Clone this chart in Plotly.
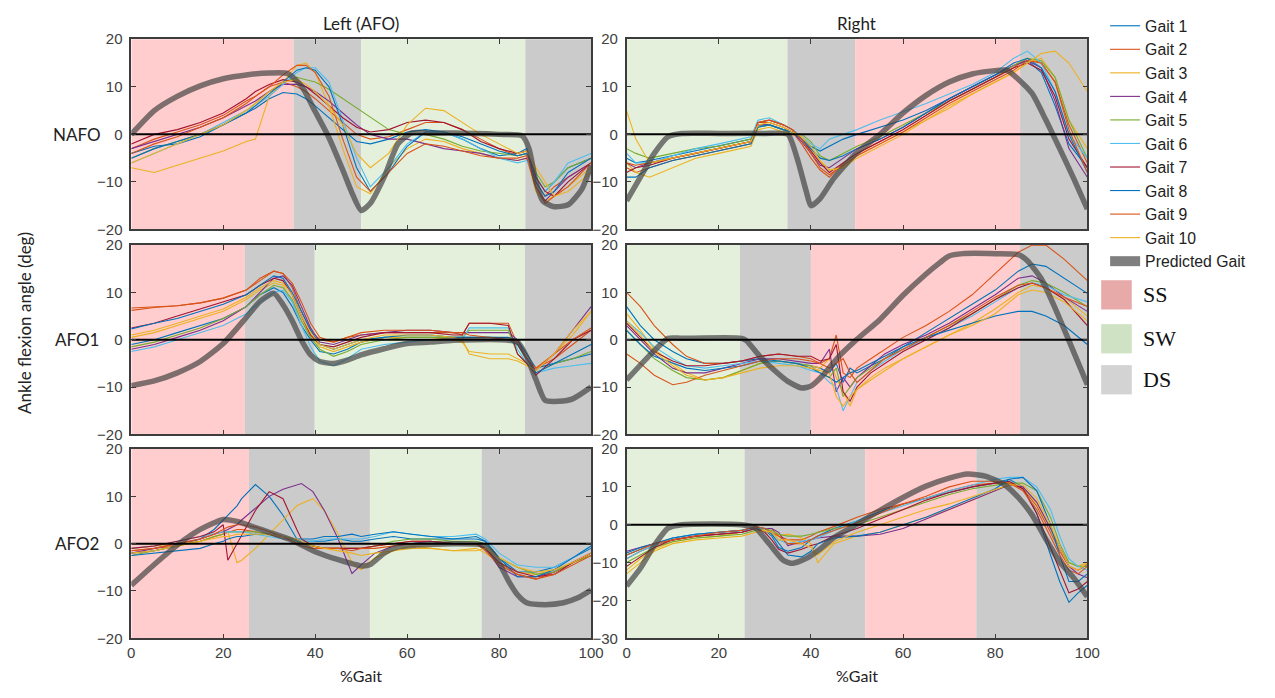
import plotly.graph_objects as go

# ---------------- data ----------------
GAIT_NAMES = ["Gait 1", "Gait 2", "Gait 3", "Gait 4", "Gait 5",
              "Gait 6", "Gait 7", "Gait 8", "Gait 9", "Gait 10"]
GAIT_COLORS = ["#0072BD", "#D95319", "#EDB120", "#7E2F8E", "#77AC30",
               "#4DBEEE", "#A2142F", "#0072BD", "#D95319", "#EDB120"]
ROW_LABELS = ["NAFO", "AFO1", "AFO2"]
COL_TITLES = ["Left (AFO)", "Right"]
X_TICKS = [0, 20, 40, 60, 80, 100]

# ---- NAFO, left ----
X_NAFO_L = [0, 5, 10, 15, 20, 25, 27, 30, 33, 36, 38, 40, 43, 46, 49, 52, 56, 60, 64, 68, 72, 76, 80, 84, 86, 88, 90, 92, 95, 100]
NAFO_L = [
    [-4, -2.5, -2, -0.5, 2, 4.5, 5.5, 7.5, 8.8, 8.5, 7.5, 6, 3.5, 1, -1.5, -2, -1, 0.5, 1, 0.5, -1, -3, -4.5, -4, -3, -9, -12, -10, -7, -5],
    [-3, -1, 0.5, 2, 4, 7, 8, 10, 11, 10, 9, 7.5, 5, 2.5, 0, -1, -0.5, 1, 2.5, 2.5, 1, -1, -3, -4.5, -4, -10, -13, -11, -9, -6],
    [-7, -8, -6.5, -5, -3.5, -1.5, -1, 8, 11, 14.5, 15, 13, 6, -3, -11, -12.5, -7, -3, -1, -1.5, -3, -4, -5, -5.5, -5, -12, -14, -13, -11, -7],
    [-3, -1.5, 0, 1.5, 3.5, 6, 7, 9, 10.5, 10.5, 10, 9, 7, 4.5, 2, 0, -1, -1, -2, -3, -3.5, -4, -5, -5.5, -5, -11, -14, -12, -9, -6],
    [-5, -3, -1.5, 0, 2, 5, 6.5, 9, 11, 12, 11.5, 11, 9.5, 7.5, 5.5, 3.5, 1, 0, 0, -1, -2.5, -3.5, -4, -4.5, -4, -8, -11, -10, -7, -5],
    [-6, -4, -2, 0, 2.5, 5, 6, 8, 10.5, 13, 14, 14, 11, 3, -5, -11, -7, -2, 0.5, 0.5, -1, -3, -5, -6, -5.5, -9, -12, -10, -6, -4],
    [-2, 0, 1, 2.5, 4.5, 7.5, 9, 10.5, 11.5, 11, 10, 8.5, 6, 3.5, 1.5, 0.5, 1, 2.5, 3, 2.5, 1, -1.5, -3, -4, -3.5, -9, -12, -13, -10, -6],
    [-5, -3, -1.5, 0, 2, 4.5, 6, 8.5, 11, 13.5, 14, 13.5, 10, 2, -7, -12, -8, -2.5, 0.5, 0.5, -0.5, -2, -3.5, -4.5, -4, -10, -13, -12, -8, -5],
    [-4, -2, -0.5, 1.5, 3.5, 6.5, 8, 10, 12.5, 14.5, 14.5, 13, 8, -1, -9, -12, -8, -4, -2, -2.5, -3.5, -4.5, -5, -5, -4.5, -11, -14.5, -13, -11, -6],
    [-6, -4, -2, 0, 2, 5, 6.5, 9, 11, 11.5, 10.5, 9, 6, 2, -4, -7, -4, 2, 5.5, 5, 2.5, 0, -2, -4, -3.5, -7, -10, -13, -12, -8],
]
PRED_X_NAFO_L = [0, 5, 10, 15, 20, 25, 30, 34, 37, 40, 43, 46, 48, 50, 52, 55, 58, 61, 65, 70, 75, 80, 85, 86.5, 88, 89.5, 92, 95, 98, 100]
PRED_Y_NAFO_L = [0, 5, 8, 10.2, 11.7, 12.5, 12.9, 12.8, 10.2, 4.8, -0.7, -7.5, -12.3, -16, -14.5, -9, -2, 0.3, 0.3, 0.3, 0.2, 0, -0.3, -3, -10, -14, -15.2, -14.8, -11.5, -6.5]
PH_EDGES_NAFO_L = [0, 35.3, 50, 85.7, 100]
PH_TYPES_NAFO_L = ["SS", "DS", "SW", "DS"]

# ---- NAFO, right ----
X_NAFO_R = [0, 2, 5, 10, 15, 20, 25, 27, 28.5, 31, 34, 36, 38, 40, 42, 44, 47, 50, 55, 60, 65, 70, 75, 80, 84, 87, 90, 93, 96, 100]
NAFO_R = [
    [-5, -6, -5.5, -4.5, -3.5, -2.5, -1.5, -1, 2, 2, 1, 0.5, -1, -2.5, -3.5, -2.5, -1, 0, 1.5, 3, 5, 7.5, 10, 12.5, 14.5, 15.5, 13, 6, -2, -7],
    [-7, -8, -7, -5.5, -4.5, -3.5, -2.5, -2, 2.5, 2.5, 1.5, 0.5, -2, -5, -7.5, -9, -6, -4, -1.5, 1, 4, 7, 9.5, 12, 14, 16, 15, 11, 2, -6],
    [-6, -8, -9, -7, -5, -4, -3, -2.5, 1, 1.5, 0.5, 0, -1, -3, -5.5, -7.5, -7, -4.5, -2, 0.5, 3, 5.5, 8.5, 11, 13, 15, 16, 12, 3, -3],
    [-6, -7, -6, -5, -4, -3, -2, -1.5, 2, 2, 1, 0.5, -1.5, -4, -6.5, -7, -5, -3, -1, 1.5, 4.5, 7.5, 10, 12.5, 14.5, 15.5, 14, 7, -3, -9],
    [-3, -4, -5, -4, -3, -2.5, -1.5, -1, 1.5, 2, 1, 0, 0, -1.5, -4.5, -5.5, -4, -2.5, -0.5, 2, 4.5, 7, 9.5, 12, 14.5, 16, 15.5, 12, 3, -5],
    [-4, -6, -6, -4.5, -3, -2, -1, -0.5, 3, 3.5, 2, 1, -0.5, -2, -3, -1, 0, 1, 3, 4.8, 6.5, 8.5, 10.5, 13, 16, 17.5, 15, 9, 0, -5],
    [-8, -7, -6.5, -5, -4, -3, -2, -1.5, 2.5, 3, 2, 1, -1, -3.5, -6, -8, -6, -4, -1.5, 1, 4, 7, 9.5, 12, 14, 15, 13.5, 8, -1, -7],
    [-9, -9, -7, -5.5, -4.5, -3.5, -2.5, -2, 1.5, 2, 1, 0.5, -1, -3, -5, -5.5, -4.5, -3, -1, 1.5, 4.5, 7.5, 10, 12.5, 15, 16, 14, 9, 0, -8],
    [-6, -6.5, -6, -5, -4, -3, -2, -1.5, 2.5, 3, 2, 1, -1, -4, -7, -8.5, -6.5, -4.5, -2, 0.5, 3.5, 6.5, 9, 11.5, 13.5, 15.5, 15, 11, 1, -8],
    [5, -1, -6, -5, -4, -3, -2, -1.5, 2, 2.5, 1.5, 0.5, -0.5, -2.5, -5.5, -7.5, -7, -5, -2.5, 0, 3, 6, 8.5, 11, 13, 15, 17, 17.5, 15, 9],
]
PRED_X_NAFO_R = [0, 3, 6, 9, 12, 20, 30, 35, 37, 39, 40, 42, 45, 50, 55, 60, 65, 70, 75, 80, 82.5, 85, 88, 91, 94, 97, 100]
PRED_Y_NAFO_R = [-14, -9, -4, -0.5, 0.2, 0.2, 0.2, 0, -5, -12, -15, -13.5, -9.2, -3.8, 0, 4.5, 8.2, 11, 12.7, 13.4, 13.5, 11.6, 8.6, 3, -3, -9.2, -15.7]
PH_EDGES_NAFO_R = [0, 34.9, 49.6, 85.4, 100]
PH_TYPES_NAFO_R = ["SW", "DS", "SS", "DS"]

# ---- AFO1, left ----
X_AFO1_L = [0, 5, 10, 15, 20, 25, 28, 31, 33, 35, 37, 39, 41, 44, 47, 50, 55, 60, 65, 70, 72, 73.5, 78, 82, 84, 86, 88, 92, 96, 100]
AFO1_L = [
    [-1, 0, 1.5, 3, 4.5, 7, 9.5, 11, 10, 7, 3, 0, -2.5, -3, -2, -0.5, 0.5, 0.5, 0.5, 0.5, 0.5, 0.5, 0.5, 0.5, 0, -3, -6, -5, -4, -3],
    [6.2, 6.8, 7.2, 7.8, 8.8, 10.5, 12.5, 14.5, 14, 11, 6, 2, 0, -0.5, 0.5, 1, 1.5, 1.5, 1.5, 1.5, 1, 3.5, 3.5, 3.5, -1, -4, -6, -4, -1, 2],
    [0.5, 1.5, 3, 4.5, 6, 8.5, 10.5, 12, 11.5, 8, 4, 1, -1.5, -2.5, -1.5, -0.5, 0.5, 0.5, 0.5, 0, -0.5, -2.5, -3, -3, -4, -5, -6, -3, 1, 6],
    [-2, -1, 0.5, 2, 4, 7, 10, 13, 13.5, 11.5, 7, 2.5, -0.5, -1, 0, 1, 1.5, 2, 2, 1.5, 1.5, 1.5, 1.5, 1.5, 0, -4, -6.5, -3, 2, 7],
    [-1.5, -0.5, 1, 2.5, 4.5, 7, 9.5, 11.5, 11, 8.5, 4, 0.5, -2, -3.5, -2.5, -1, 0, 0.5, 0.5, 0.5, 0.5, 2, 2, 2, -3, -5, -7, -5, -4, -2.5],
    [-2.5, -1.5, 0, 1.5, 3, 5.5, 8, 10, 10.5, 8, 3, -1.5, -4.5, -5.5, -4, -2, -1, -0.5, 0, 0, 0, 2.5, 2.5, 2.5, -2, -5, -7, -6, -5.5, -5],
    [2.5, 3.5, 5, 6.5, 8, 9.5, 11.5, 13, 12.5, 9.5, 5, 1, -1, -1.5, -0.5, 0.5, 1.5, 1.5, 1.5, 1, 1, 3.5, 3.5, 3, -3, -5, -7.5, -4, 0, 2],
    [2.3, 3.5, 4.5, 6, 7.5, 9.5, 11.5, 13.5, 13, 10, 6, 2, -1, -2, -1, 0, 0.5, 1, 1, 0.5, 0.5, 0.5, 0.5, 0, -1, -4, -7, -5, -3, -1],
    [6.7, 7, 7.2, 7.8, 8.8, 10.5, 13, 14.5, 14, 12, 8, 3.5, 0.5, -0.5, 0.5, 1.5, 2, 2, 2, 1.5, 1.5, 1, 0.5, 0, -0.5, -4, -6, -3, 0, 2.5],
    [1, 2, 3.5, 5, 6.5, 9, 11, 12.5, 12, 9.5, 5, 1.5, -1, -2, -1, 0, 1, 1, 1, 0.5, 0, -3, -4, -4, -4.5, -5.5, -6.5, -3, 2, 6],
]
PRED_X_AFO1_L = [0, 5, 10, 15, 20, 25, 28, 31, 33, 35, 37, 39, 41, 44, 47, 50, 55, 60, 65, 70, 80, 84, 86, 88, 90, 93, 96, 100]
PRED_Y_AFO1_L = [-9.7, -8.7, -7, -4.6, -0.8, 4.7, 8.1, 9.8, 7.4, 4, -0.1, -3.2, -4.6, -5, -4.3, -3.2, -1.9, -0.8, -0.5, -0.1, 0, -0.5, -3.6, -8.4, -12.8, -13, -12.5, -10]
PH_EDGES_AFO1_L = [0, 24.7, 39.9, 85.6, 100]
PH_TYPES_AFO1_L = ["SS", "DS", "SW", "DS"]

# ---- AFO1, right ----
X_AFO1_R = [0, 3, 6, 10, 13, 17, 21, 25, 29, 33, 37, 40, 42, 44, 45.5, 47, 48.5, 50, 53, 56, 60, 65, 70, 75, 80, 85, 88, 91, 95, 100]
AFO1_R = [
    [7, 3, 0, -2.5, -4, -5, -5, -4.5, -4, -4.5, -5, -5.5, -6, -7, -5, -9, -6, -7, -5.5, -4, -1.5, 1.5, 4.5, 7.5, 10.5, 14.5, 16, 15.5, 13, 9.8],
    [10, 7, 3, -1, -3.5, -5, -5, -4.5, -3.5, -3, -3.5, -4, -5, -4, 1, -7, -8, -6, -4, -2, 0.5, 3, 6, 9.5, 14, 18.5, 20, 20, 17, 12.5],
    [5.5, 2, -2, -5, -7, -8.5, -8, -6.5, -5, -4.5, -5, -5.5, -6, -4, -8, -11, -14, -10.5, -8, -6, -4, -1.5, 1, 3.5, 6.5, 10, 11.5, 11, 9, 5],
    [3, 0, -3, -6, -7, -7, -6, -5, -4, -4, -4.5, -5, -5, -2, -11, -8, -10, -8, -5.5, -3, -1, 1, 3.5, 6.5, 9.5, 13, 13.5, 12, 9, 6],
    [2, -1, -4, -6.5, -8, -8.5, -8, -6.5, -5, -4.5, -5, -5.5, -7, -8, -6, -12, -10, -8, -6, -4, -2, 0.5, 3, 5.5, 8.5, 11.5, 12.5, 12, 10, 7],
    [4, 1.5, -1.5, -4, -5.5, -6, -5.5, -5, -4.5, -5, -5.5, -6.5, -7, -9, -10, -15, -12, -9, -6.5, -4.5, -2, 0, 2.5, 5, 8, 11, 12, 11.5, 9.5, 8],
    [3.5, 0.5, -2.5, -4.5, -5.5, -5.5, -5, -4.5, -3.5, -3, -3.5, -3.5, -4.5, -4, -1, -11, -13, -10, -7, -5, -2.5, 0, 2.5, 5.5, 8.5, 11, 12, 11, 8.5, 3],
    [2, -1, -3.5, -5, -6, -6.5, -6, -5.5, -4.5, -4.5, -5, -6, -7, -8, -9, -8, -7, -6.5, -5, -3.5, -1.5, 0.5, 2, 3.5, 5, 6, 6, 5, 3, -1],
    [-3, -5, -7.5, -9.5, -9, -7.5, -6.5, -5.5, -4.5, -4, -4, -4.5, -5, -6, -5, -4, -7, -9, -6.5, -4, -2, 0.5, 3, 6, 9, 11.5, 12, 11, 9, 7],
    [4, 1, -2.5, -5.5, -7.5, -8.5, -8, -7, -6, -5.5, -5.5, -6, -6.5, -7, -12, -14, -12, -10.5, -8.5, -6.5, -4, -1.5, 1, 3, 5.5, 9.5, 10.5, 10, 8, 4],
]
PRED_X_AFO1_R = [0, 5, 9, 12, 25, 26, 29, 32, 35, 38, 40, 43, 46, 50, 55, 60, 65, 68, 70, 73, 80, 85, 87, 90, 93, 96, 100]
PRED_Y_AFO1_R = [-8.5, -3.3, 0.3, 0.3, 0.3, -0.2, -3.6, -6.4, -8.8, -10.2, -9.8, -7.1, -3.6, 0.1, 4.3, 9.4, 13.9, 16.3, 17.7, 18.2, 18.2, 18, 16.7, 12.9, 6.7, -0.2, -9.5]
PH_EDGES_AFO1_R = [0, 24.6, 40, 85.4, 100]
PH_TYPES_AFO1_R = ["SW", "DS", "SS", "DS"]

# ---- AFO2, left ----
X_AFO2_L = [0, 5, 10, 15, 18, 20, 21, 23, 24, 27, 30, 33, 36, 37, 39.5, 42, 45, 48, 50, 53, 57, 61, 65, 70, 75, 77, 80, 84, 88, 92, 96, 100]
AFO2_L = [
    [-2, -1.5, -0.5, 1, 3, 5, 6, 8, 9.5, 12.5, 10, 6, 1, 0.5, 0.5, 0.5, 1, 0.5, 0.5, 1, 1.5, 1, 1, 1, 1, 0.5, -3, -6, -6, -5, -3, -1],
    [-1.5, -1, -0.5, 0.5, 1.5, 2, 2.5, 3, 3, 2.5, 2, 1, 0.5, 0, -0.5, -1, -1, -1, -1, -0.5, 0, 0.5, 0.5, 0, 0, -1, -4, -6.5, -7.5, -6, -4, -2],
    [-1, -0.5, 0, 0.5, 1.5, 2, 2.5, -4, -3.5, -1, 2, 5, 8, 8.5, 9.5, 7, 2, -4, -5.5, -3, -1.5, -0.5, -1, -1.5, -1, -2, -4, -6, -6.5, -5.5, -4, -2.5],
    [-2, -1, 0, 1, 2, 2.5, 3, 4, 5, 7.5, 10, 11.5, 12.5, 12.7, 11, 7, 1, -6.3, -4.5, -2, -0.5, 0, 0.5, 0, 0, -1, -5, -7, -7, -6, -4, -2],
    [-2.5, -1.5, -0.5, 0.5, 1.5, 2, 2.5, 2.5, 2.5, 2.5, 2, 1.5, 0.5, 0, -0.5, -1, -1, -1, -1, -0.5, 0.5, 1, 1, 0.5, 0.5, 0, -3, -5, -6.5, -6, -4, -2.5],
    [-1, -0.5, 0.5, 1.5, 2, 2.5, 2.5, 2.5, 2.5, 2, 1.5, 1, 0.5, 0.5, 0.5, 1, 1, 1, 1, 1.5, 2.5, 2, 1.5, 1.5, 2, 1, -2, -4.5, -5, -5, -3, -0.5],
    [-1, -0.5, 0.5, 1.5, 2.5, 4, -3.5, 0, 2, 7, 11, 9.5, 3, 1, -0.5, -1, -1, -1, -1, -0.5, 0, 0.5, 0.5, 0, 0, -1, -4, -6, -7, -6.5, -4, -2],
    [-2.5, -2, -1.5, -1, 0, 0.5, 1, 1.5, 1.5, 2, 2, 1.5, 1, 1, 1, 1.5, 1.5, 2, 1.5, 2, 2.5, 2, 1.5, 1, 1.5, 0.5, -3, -7, -7, -5.5, -3, -0.5],
    [-1.5, -1, 0, 1, 2, 3, 3.5, 4, 4, 3.5, 2.5, 1.5, 0, -0.5, -1, -1, -1, -1.5, -1, -1, -0.5, 0, 0, 0, 0, -1.5, -4.5, -6.5, -7.5, -6.5, -4.5, -2.5],
    [-2, -1.5, -0.5, 0.5, 1, 1.5, 1.5, 2, 2, 2, 2, 1.5, 1, 0.5, -0.5, -1, -1.5, -2, -2.5, -2, -1.5, -1, -1, -1.5, -1.5, -1, -3, -5, -6, -5.5, -4, -2],
]
PRED_X_AFO2_L = [0, 5, 10, 15, 20, 23, 27, 30, 35, 40, 45, 50, 52, 55, 58, 62, 70, 76, 78, 80, 82, 84, 86, 90, 94, 97, 100]
PRED_Y_AFO2_L = [-8.8, -4.4, -0.3, 3, 5.1, 4.7, 3.4, 2.4, 0.7, -1.7, -3.4, -4.7, -4.4, -2, -0.7, -0.3, 0, -0.2, -1.4, -4.1, -7.8, -10.8, -12.5, -12.9, -12.5, -11.5, -9.8]
PH_EDGES_AFO2_L = [0, 25.6, 51.9, 76.2, 100]
PH_TYPES_AFO2_L = ["SS", "DS", "SW", "DS"]

# ---- AFO2, right ----
X_AFO2_R = [0, 3, 6, 10, 15, 20, 25, 28, 30, 31.5, 33, 35, 38, 40, 41.5, 45, 50, 55, 60, 65, 70, 75, 80, 83, 86, 89, 92, 94, 96, 98, 100]
AFO2_R = [
    [-8, -6.5, -5, -3.5, -2.5, -2, -1.5, -1, -1.5, -3, -6, -7, -6, -4, -3, -1, 1, 3.5, 5.5, 7, 8.5, 10, 11, 12, 10, 3, -8, -15, -20.5, -18, -16],
    [-9, -7, -5.5, -4, -3, -2.5, -2, -1, -1, -1, -3, -4, -4, -3, -2, -0.5, 2, 4, 5.5, 7, 9, 10.5, 11, 11, 9.5, 5, -2, -7, -11, -12, -10.5],
    [-12, -9, -6.5, -4.5, -3.5, -3, -2, -1, -1.5, -2.5, -3, -2.5, -3.5, -5, -10, -5, -3, -2, 0, 2, 4, 6.5, 9, 10.5, 10, 5.5, -1, -6, -10, -11, -10],
    [-7, -6, -5, -4, -3, -2.5, -2, -1, -1, -1, -2, -5.5, -4.5, -4, -3.5, -3, -3, -2.5, -1, 1.5, 4, 6.5, 9, 10.5, 10, 6, -1, -6, -11, -13, -14],
    [-10, -8, -6, -4.5, -3.5, -3, -2.5, -1.5, -1, -1.5, -2.5, -3, -3, -2.5, -2, -1, 0, 2, 4, 6, 8, 9.5, 10.5, 11, 11, 9, 2, -5, -10, -11, -11],
    [-9, -7, -5.5, -3.5, -2.5, -2, -1.5, -1, -1, -2, -4, -5, -4.5, -4, -3.5, -1.5, 1, 3, 5, 7, 9, 10.5, 12, 12.5, 12.5, 10, 4, -3, -9, -11, -12],
    [-11, -8.5, -6, -4, -3, -2.5, -2, -1, -2, -4, -6.5, -7.5, -6.5, -5.5, -5, -3, -1, 1.5, 4, 6.5, 8.5, 10, 11, 11.5, 9.5, 3, -6, -12, -18, -17, -15],
    [-7.5, -6, -5, -3.5, -2.5, -2, -1.5, -0.5, -1, -2.5, -5, -8, -8.5, -7, -5, -3.5, -3, -2, 0, 2, 4.5, 7, 9.5, 12, 12.5, 9, 0, -8, -15, -15, -13],
    [-8, -6.5, -5, -4, -3, -2, -1.5, -0.5, -1, -2, -3, -5, -5, -4, -3, -1.5, 0.5, 3, 5.5, 7.5, 10, 11.5, 11.5, 11, 9, 4, -3, -8, -12, -13, -11],
    [-13, -10, -7, -5, -4, -3.5, -3, -2, -1.5, -2, -4, -4, -5, -6, -8, -4.5, -2, 0, 2, 4, 5.5, 7.5, 9.5, 10.5, 10.5, 7, 0, -6, -11, -12, -10],
]
PRED_X_AFO2_R = [0, 3, 6, 9, 12, 25, 28, 31, 34, 36, 39, 42, 45, 48, 51, 55, 60, 65, 70, 74, 78, 82, 85, 88, 91, 94, 97, 100]
PRED_Y_AFO2_R = [-16.2, -11.5, -5.5, -0.9, 0, 0, -0.9, -5.1, -9.4, -10.2, -8.9, -6.4, -3.4, -1.3, 0.9, 3.8, 7.2, 10.2, 12.3, 13.4, 12.8, 10.6, 7.2, 2.6, -3.8, -9.8, -14, -19]
PH_EDGES_AFO2_R = [0, 25.6, 51.8, 75.9, 100]
PH_TYPES_AFO2_R = ["SW", "DS", "SS", "DS"]

Y_RANGES = [[-20, 20], [-20, 20], [-20, 20], [-20, 20], [-20, 20], [-30, 20]]

# ---------------- styling ----------------
W, H = 1275, 698
PHASE_COLORS = {"SS": "#FFCDCD", "SW": "#E5F0DC", "DS": "#CBCBCB"}
LEGEND_PATCH = {"SS": "#E8A9A9", "SW": "#CFE2C3", "DS": "#D3D3D3"}
PRED_COLOR = "rgba(64,64,64,0.68)"
AX_COLOR = "#3c3c3c"
TICK_FONT = dict(family="Liberation Sans, Arial, sans-serif", size=15, color="#404040")
LABEL_FONT = dict(family="Lato, Liberation Sans, sans-serif", size=17, color="#222222")

COL_PX = [(129, 595), (631, 1098)]
ROW_PX = [(31, 226), (242, 436), (451, 645)]


def xdom(c):
    a, b = COL_PX[c]
    return [a / W, b / W]


def ydom(r):
    t, b = ROW_PX[r]
    return [1 - b / H, 1 - t / H]


panels = [
    (X_NAFO_L, NAFO_L, PRED_X_NAFO_L, PRED_Y_NAFO_L, PH_EDGES_NAFO_L, PH_TYPES_NAFO_L),
    (X_NAFO_R, NAFO_R, PRED_X_NAFO_R, PRED_Y_NAFO_R, PH_EDGES_NAFO_R, PH_TYPES_NAFO_R),
    (X_AFO1_L, AFO1_L, PRED_X_AFO1_L, PRED_Y_AFO1_L, PH_EDGES_AFO1_L, PH_TYPES_AFO1_L),
    (X_AFO1_R, AFO1_R, PRED_X_AFO1_R, PRED_Y_AFO1_R, PH_EDGES_AFO1_R, PH_TYPES_AFO1_R),
    (X_AFO2_L, AFO2_L, PRED_X_AFO2_L, PRED_Y_AFO2_L, PH_EDGES_AFO2_L, PH_TYPES_AFO2_L),
    (X_AFO2_R, AFO2_R, PRED_X_AFO2_R, PRED_Y_AFO2_R, PH_EDGES_AFO2_R, PH_TYPES_AFO2_R),
]

fig = go.Figure()
shapes = []
layout = {}

for i, (xs, gaits, pxs, pys, edges, types) in enumerate(panels):
    r, c = divmod(i, 2)
    n = i + 1
    xa = "x" if n == 1 else f"x{n}"
    ya = "y" if n == 1 else f"y{n}"
    xkey = "xaxis" if n == 1 else f"xaxis{n}"
    ykey = "yaxis" if n == 1 else f"yaxis{n}"

    # phase background
    for k, t in enumerate(types):
        shapes.append(dict(type="rect", xref=xa, yref=f"{ya} domain",
                           x0=edges[k], x1=edges[k + 1], y0=0, y1=1,
                           fillcolor=PHASE_COLORS[t], line=dict(width=0), layer="below"))

    for g, vals in enumerate(gaits):
        fig.add_trace(go.Scatter(
            x=xs, y=vals, mode="lines", name=GAIT_NAMES[g],
            line=dict(color=GAIT_COLORS[g], width=1.1),
            legendgroup=GAIT_NAMES[g], showlegend=(i == 0),
            xaxis=xa, yaxis=ya, hoverinfo="skip"))

    if i == 0:
        fig.add_trace(go.Scatter(x=[None], y=[None], mode="lines", name="Predicted Gait",
                                 line=dict(color="#7f7f7f", width=10),
                                 legendgroup="pred", showlegend=True))

    fig.add_trace(go.Scatter(
        x=pxs, y=pys, mode="lines", name="Predicted Gait",
        line=dict(color=PRED_COLOR, width=5.5, shape="spline", smoothing=0.6),
        legendgroup="pred", showlegend=False, xaxis=xa, yaxis=ya, hoverinfo="skip"))

    fig.add_trace(go.Scatter(
        x=[0, 100], y=[0, 0], mode="lines", line=dict(color="black", width=2),
        showlegend=False, xaxis=xa, yaxis=ya, hoverinfo="skip"))

    yr = Y_RANGES[i]
    layout[xkey] = dict(domain=xdom(c), anchor=ya, range=[0, 100], tickvals=X_TICKS,
                        ticks="inside", ticklen=5, tickcolor=AX_COLOR, mirror="ticks",
                        showline=True, linecolor=AX_COLOR, linewidth=1.5,
                        showgrid=False, zeroline=False, showticklabels=(r == 2),
                        tickfont=TICK_FONT, fixedrange=True)
    layout[ykey] = dict(domain=ydom(r), anchor=xa, range=yr,
                        tickvals=list(range(yr[0], yr[1] + 1, 10)),
                        ticks="inside", ticklen=5, tickcolor=AX_COLOR, mirror="ticks",
                        showline=True, linecolor=AX_COLOR, linewidth=1.5,
                        showgrid=False, zeroline=False, tickfont=TICK_FONT,
                        ticklabelstandoff=4, fixedrange=True)

annotations = []
# column titles and x titles
for c in range(2):
    a, b = COL_PX[c]
    xm = (a + b) / 2 / W
    annotations.append(dict(text=COL_TITLES[c], x=xm, y=1 - 15 / H, xref="paper", yref="paper",
                            showarrow=False, font=LABEL_FONT, xanchor="center", yanchor="middle"))
    annotations.append(dict(text="%Gait", x=xm, y=1 - 683 / H, xref="paper", yref="paper",
                            showarrow=False, font=dict(LABEL_FONT, size=16),
                            xanchor="center", yanchor="middle"))
# row labels
for r in range(3):
    t, b = ROW_PX[r]
    yc = (t + b) / 2
    annotations.append(dict(text=ROW_LABELS[r], x=74 / W, y=1 - yc / H, xref="paper", yref="paper",
                            showarrow=False, font=LABEL_FONT, xanchor="center", yanchor="middle"))
# y axis title
annotations.append(dict(text="Ankle flexion angle (deg)", x=20 / W, y=1 - 322 / H,
                        xref="paper", yref="paper", showarrow=False, textangle=-90,
                        font=LABEL_FONT, xanchor="center", yanchor="middle"))

# phase legend patches
PATCH_Y = {"SS": 293, "SW": 338, "DS": 380}
for key in ["SS", "SW", "DS"]:
    yc = PATCH_Y[key]
    shapes.append(dict(type="rect", xref="paper", yref="paper",
                       x0=1112 / W, x1=1143 / W, y0=1 - (yc + 15) / H, y1=1 - (yc - 15) / H,
                       fillcolor=LEGEND_PATCH[key], line=dict(width=0)))
    annotations.append(dict(text=key, x=1152 / W, y=1 - yc / H, xref="paper", yref="paper",
                            showarrow=False, xanchor="left", yanchor="middle",
                            font=dict(family="Liberation Serif, Times New Roman, serif",
                                      size=22, color="#111111")))

fig.update_layout(
    width=W, height=H, margin=dict(l=0, r=0, t=0, b=0),
    paper_bgcolor="white", plot_bgcolor="white",
    shapes=shapes, annotations=annotations,
    legend=dict(x=1116 / W, y=1.0, xanchor="left", yanchor="top",
                bgcolor="rgba(0,0,0,0)", borderwidth=0, tracegroupgap=0,
                font=dict(family="Liberation Sans, Arial, sans-serif", size=15.8, color="#222222"),
                itemwidth=30),
    **layout,
)

fig.write_html("out.html")
